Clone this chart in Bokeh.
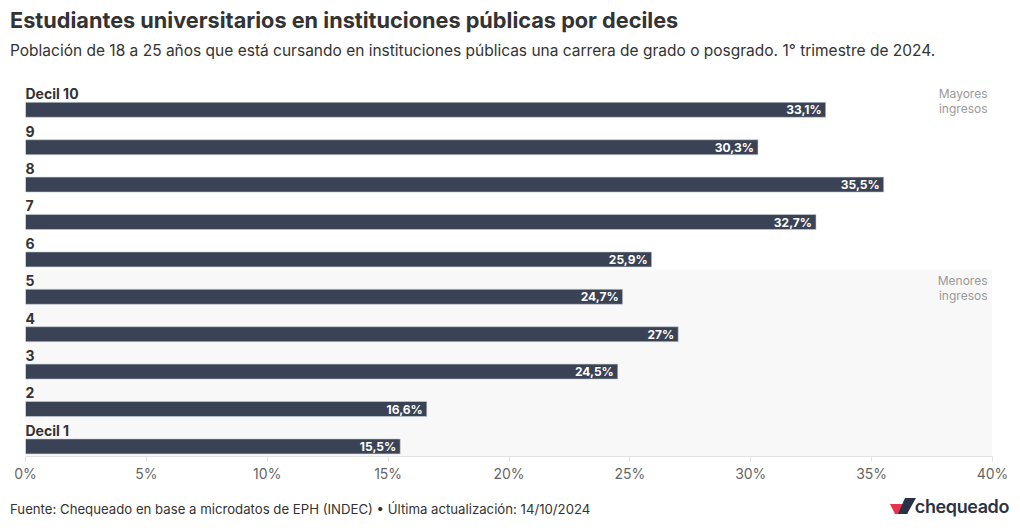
from bokeh.plotting import figure
from bokeh.models import ColumnDataSource, BoxAnnotation, Label, FixedTicker, PrintfTickFormatter, Range1d, Div
from bokeh.layouts import column
from bokeh.core.properties import value
from bokeh.embed import file_html
from bokeh.resources import INLINE

# ---- data ----
deciles = ["Decil 1", "2", "3", "4", "5", "6", "7", "8", "9", "Decil 10"]
values = [15.5, 16.6, 24.5, 27.0, 24.7, 25.9, 32.7, 35.5, 30.3, 33.1]
value_labels = ["15,5%", "16,6%", "24,5%", "27%", "24,7%", "25,9%", "32,7%", "35,5%", "30,3%", "33,1%"]
x_ticks = [0, 5, 10, 15, 20, 25, 30, 35, 40]

title = "Estudiantes universitarios en instituciones públicas por deciles"
subtitle = "Población de 18 a 25 años que está cursando en instituciones públicas una carrera de grado o posgrado. 1° trimestre de 2024."
footer = "Fuente: Chequeado en base a microdatos de EPH (INDEC) • Última actualización: 14/10/2024"

FONT = "Inter"
BAR = "#3a4255"
W = 1020
HEADER_H = 72
FOOTER_H = 42
FIG_H = 532 - HEADER_H - FOOTER_H

rows = list(range(len(deciles)))
src = ColumnDataSource(dict(
    bar_y=[r + 0.27 for r in rows],
    lab_y=[r + 0.70 for r in rows],
    zero=[0] * len(rows),
    val=values,
    vlab=value_labels,
    name=deciles,
))

p = figure(width=W, height=FIG_H, output_backend="svg", toolbar_location=None,
           x_range=Range1d(0, 40), y_range=Range1d(0, 10),
           min_border_left=25, min_border_right=28, min_border_top=10,
           min_border_bottom=FIG_H - 10 - 374)
p.outline_line_color = None
p.background_fill_color = "white"
p.border_fill_color = "white"
p.xgrid.visible = False
p.ygrid.visible = False
p.yaxis.visible = False

# shaded lower-income band
p.add_layout(BoxAnnotation(bottom=0, top=5, fill_color="#f8f8f8", fill_alpha=1,
                           line_color=None, level="underlay"))

p.hbar(y="bar_y", left="zero", right="val", height=0.4, source=src,
       fill_color=BAR, line_color="#c9d0d8", line_width=0.6)

p.text(x="val", y="bar_y", text="vlab", source=src, x_offset=-4,
       text_align="right", text_baseline="middle", text_color="white",
       text_font=value(FONT), text_font_size="12px", text_font_style="bold")

p.text(x="zero", y="lab_y", text="name", source=src,
       text_align="left", text_baseline="middle", text_color="#333333",
       text_font=value(FONT), text_font_size="14px", text_font_style="bold")

for y_top, txt in [(10, "Mayores\ningresos"), (5, "Menores\ningresos")]:
    p.add_layout(Label(x=40, y=y_top, x_offset=-5, y_offset=-3, text=txt,
                       text_align="right", text_baseline="top", text_color="#9a9a9a",
                       text_font=FONT, text_font_size="12px", text_line_height=1.05))

# x axis
ax = p.xaxis[0]
ax.ticker = FixedTicker(ticks=x_ticks)
ax.formatter = PrintfTickFormatter(format="%d%%")
ax.axis_line_color = "#e3e3e3"
ax.major_tick_line_color = "#e3e3e3"
ax.major_tick_out = 5
ax.major_tick_in = 0
ax.minor_tick_line_color = None
ax.major_label_text_font = FONT
ax.major_label_text_font_size = "14px"
ax.major_label_text_color = "#666666"
ax.major_label_standoff = 3

header = Div(
    text=(
        f'<div style="font-family:{FONT};color:#333333;padding:7px 0 0 10px;">'
        f'<div style="font-size:21.7px;font-weight:bold;line-height:27px;white-space:nowrap;">{title}</div>'
        f'<div style="font-size:15.5px;line-height:20px;margin-top:7px;white-space:nowrap;">{subtitle}</div>'
        '</div>'
    ),
    width=W, height=HEADER_H, margin=0,
)

logo_svg = (
    '<svg width="28" height="24" viewBox="0 0 28 24" style="display:block;">'
    '<polygon points="0,9 13,9 18,19 5,19" fill="#e8344e"/>'
    '<polygon points="15,3 26,3 17,19 8,19" fill="#2b3245"/>'
    '</svg>'
)

footer_div = Div(
    text=(
        f'<div style="font-family:{FONT};width:{W}px;height:{FOOTER_H}px;position:relative;">'
        f'<div style="position:absolute;left:10px;top:11px;font-size:13.2px;line-height:16px;color:#333333;white-space:nowrap;">{footer}</div>'
        f'<div style="position:absolute;left:890px;top:5px;">{logo_svg}</div>'
        f'<div style="position:absolute;right:11px;top:4px;font-size:18px;font-weight:600;line-height:26px;color:#2b3245;letter-spacing:-0.4px;">chequeado</div>'
        '</div>'
    ),
    width=W, height=FOOTER_H, margin=0,
)

layout = column(header, p, footer_div, spacing=0)
open("out.html", "w").write(file_html(layout, INLINE))
